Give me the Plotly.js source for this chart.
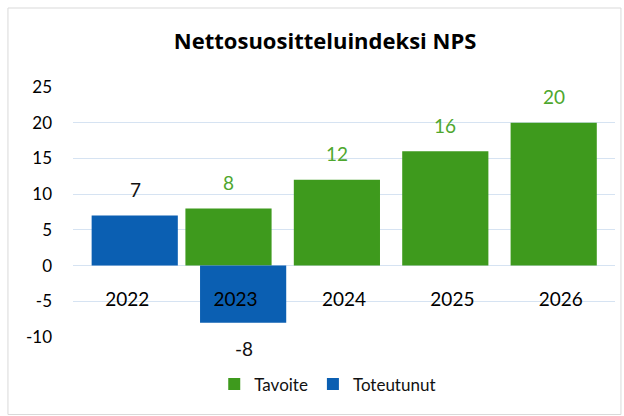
<!DOCTYPE html>
<html>
<head>
<meta charset="utf-8">
<script src="https://cdn.plot.ly/plotly-3.0.1.min.js"></script>
<style>html,body{margin:0;padding:0;background:#fff;}#chart{width:624px;height:416px;}</style>
</head>
<body>
<div id="chart"></div>
<script>
const years = ['2022', '2023', '2024', '2025', '2026'];
const tavoite = [null, 8, 12, 16, 20];
const toteutunut = [7, -8, null, null, null];
const seriesNames = ['Tavoite', 'Toteutunut'];
const titleText = 'Nettosuositteluindeksi NPS';
const yTickVals = [-10, -5, 0, 5, 10, 15, 20, 25];
const yTickText = ['-10', '-5', '0', '5', '10', '15', '20', '25'];

const green = '#3e9a1d';
const blue = '#0b5fb2';
const font = 'Lato, "Open Sans", sans-serif';

const traces = [
  {type: 'bar', name: seriesNames[0], x: years, y: tavoite, width: 0.795, offset: -0.463,
   marker: {color: green}, hoverinfo: 'skip', cliponaxis: false},
  {type: 'bar', name: seriesNames[1], x: years, y: toteutunut, width: 0.795, offset: -0.328,
   marker: {color: blue}, hoverinfo: 'skip', cliponaxis: false}
];

const annotations = [];
function addLabels(vals, xshift, color) {
  vals.forEach((v, i) => {
    if (v === null) return;
    annotations.push({x: i, y: v, xref: 'x', yref: 'y', text: (v < 0 ? '-' : '') + Math.abs(v),
      showarrow: false, xshift: xshift, yshift: v >= 0 ? 26 : -26, yanchor: 'middle',
      font: {family: font, size: 19, color: color}});
  });
}
addLabels(tavoite, -7, '#4ea72e');
addLabels(toteutunut, 8, '#111');

const layout = {
  width: 624, height: 416,
  margin: {l: 73, r: 9, t: 87, b: 79},
  paper_bgcolor: '#fff', plot_bgcolor: '#fff',
  title: {text: '<b>' + titleText + '</b>', x: 0.521, xanchor: 'center', y: 0.9, yanchor: 'middle',
          font: {family: '"Open Sans", sans-serif', size: 22, color: '#000'}},
  barmode: 'overlay',
  showlegend: true,
  legend: {orientation: 'h', x: 0.47, xanchor: 'center', y: -0.19, yanchor: 'middle',
           font: {family: font, size: 17, color: '#111'}, traceorder: 'normal'},
  xaxis: {type: 'category', categoryorder: 'array', categoryarray: years,
          range: [-0.5, 4.5], autorange: false,
          anchor: 'free', position: 10/35, showline: false, showgrid: false, zeroline: false,
          ticks: '', ticklabelstandoff: 20, tickfont: {family: font, size: 19, color: '#000'},
          fixedrange: true},
  yaxis: {range: [-10, 25], autorange: false, tickmode: 'array', tickvals: yTickVals, ticktext: yTickText,
          showgrid: true, gridcolor: '#d6e3f2', gridwidth: 1, zeroline: true, zerolinecolor: '#d6e3f2', zerolinewidth: 1,
          showline: false, ticks: '', ticklabelstandoff: 20,
          tickfont: {family: font, size: 17, color: '#000'}, fixedrange: true},
  annotations: annotations,
  shapes: [{type: 'rect', xref: 'paper', yref: 'paper', x0: -0.12, x1: 1.011, y0: -0.31, y1: 1.316,
            line: {color: '#d9d9d9', width: 1}, layer: 'below'}]
};

Plotly.newPlot('chart', traces, layout, {displayModeBar: false, staticPlot: true});
</script>
</body>
</html>
